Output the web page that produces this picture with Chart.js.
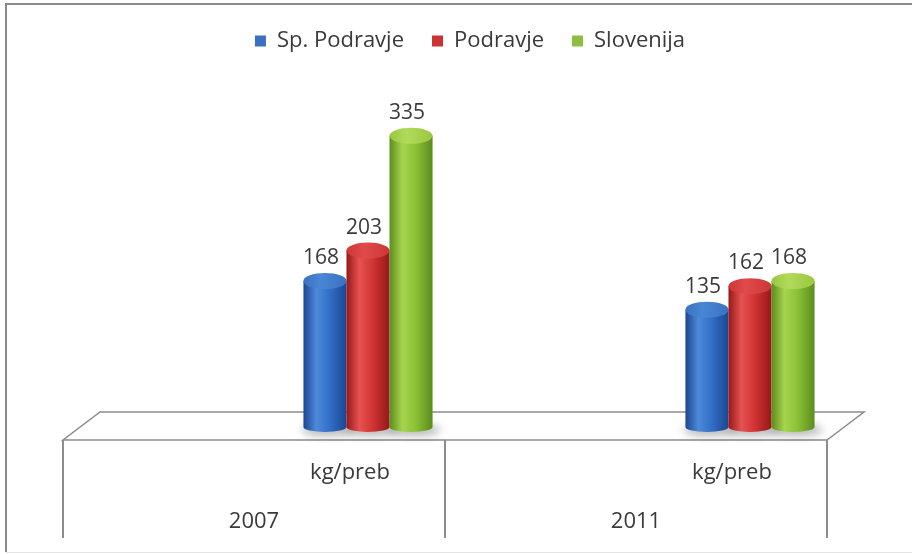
<!DOCTYPE html>
<html>
<head>
<meta charset="utf-8">
<script src="https://cdn.jsdelivr.net/npm/chart.js@4/dist/chart.umd.min.js"></script>
<style>
  html, body { margin: 0; padding: 0; background: #ffffff; }
  canvas { display: block; }
</style>
</head>
<body>
<canvas id="c" width="912" height="554"></canvas>
<script>
// ---- data ----
const categories = ['2007', '2011'];
const unitLabels = ['kg/preb', 'kg/preb'];
const seriesNames = ['Sp. Podravje', 'Podravje', 'Slovenija'];
const spPodravje = [168, 135];
const podravje = [203, 162];
const slovenija = [335, 168];

// ---- styles ----
const FONT = "'Open Sans', 'Noto Sans', sans-serif";
const TEXT = '#3a3a3a';
const palettes = [
  { solid: '#3a6fc2', edge: '#1b4690', light: '#4d8ad9', mid: '#3270c8', cap: '#4a86d4', capEdge: '#3a72c2' },
  { solid: '#cc3232', edge: '#961818', light: '#e65252', mid: '#d23434', cap: '#e04a4a', capEdge: '#cc3636' },
  { solid: '#8cbf3f', edge: '#5c8c1c', light: '#a6d44e', mid: '#8cc236', cap: '#b2da5a', capEdge: '#98c840' }
];
const DEPTH_X = 114;   // perspective shift of the bars inside the 3D floor
const FLOOR_DX = 37;   // floor depth (x)
const FLOOR_FRONT = 13, FLOOR_BACK = -15;

const cylPlugin = {
  id: 'cyl3d',
  beforeDraw(chart) {
    const ctx = chart.ctx;
    const ca = chart.chartArea;
    const yb = chart.scales.y.getPixelForValue(0);
    ctx.save();
    // outer frame
    ctx.strokeStyle = '#8a8a8a';
    ctx.lineWidth = 2;
    ctx.beginPath();
    ctx.moveTo(6, chart.height - 2);
    ctx.lineTo(6, 4);
    ctx.lineTo(chart.width, 4);
    ctx.stroke();
    ctx.strokeStyle = '#e2e2e2';
    ctx.lineWidth = 1;
    ctx.beginPath();
    ctx.moveTo(6, chart.height - 1.5);
    ctx.lineTo(chart.width, chart.height - 1.5);
    ctx.stroke();

    // floor
    const fy = yb + FLOOR_FRONT, by = yb + FLOOR_BACK;
    ctx.fillStyle = '#ffffff';
    ctx.strokeStyle = '#8c8c8c';
    ctx.lineWidth = 1.5;
    ctx.beginPath();
    ctx.moveTo(ca.left, fy);
    ctx.lineTo(ca.right, fy);
    ctx.lineTo(ca.right + FLOOR_DX, by);
    ctx.lineTo(ca.left + FLOOR_DX, by);
    ctx.closePath();
    ctx.fill();
    ctx.stroke();

    // category table
    const xs = chart.scales.x;
    const bottom = chart.height - 16;
    ctx.strokeStyle = '#8c8c8c';
    ctx.lineWidth = 2;
    const bounds = [ca.left];
    for (let i = 0; i < categories.length - 1; i++) {
      bounds.push((xs.getPixelForValue(i) + xs.getPixelForValue(i + 1)) / 2);
    }
    bounds.push(ca.right);
    bounds.forEach(bx => {
      ctx.beginPath();
      ctx.moveTo(bx, fy);
      ctx.lineTo(bx, bottom);
      ctx.stroke();
    });
    ctx.fillStyle = TEXT;
    ctx.textAlign = 'center';
    ctx.textBaseline = 'middle';
    categories.forEach((c, i) => {
      const cx = xs.getPixelForValue(i);
      ctx.font = '22px ' + FONT;
      ctx.fillText(unitLabels[i], cx + 96, yb + 46);
      ctx.fillText(c, cx, yb + 95);
    });
    ctx.restore();
  },
  beforeDatasetsDraw(chart) {
    const ctx = chart.ctx;
    ctx.save();
    const metas = chart.data.datasets.map((d, i) => chart.getDatasetMeta(i));
    // shadows
    metas.forEach(meta => {
      meta.data.forEach(el => {
        const { x, base, width } = el.getProps(['x', 'base', 'width'], true);
        const cx = x + DEPTH_X, r = width / 2;
        ctx.save();
        ctx.filter = 'blur(4px)';
        ctx.fillStyle = 'rgba(0,0,0,0.28)';
        ctx.beginPath();
        ctx.ellipse(cx + 3, base + 3, r + 5, 6, 0, 0, Math.PI * 2);
        ctx.fill();
        ctx.restore();
      });
    });
    // cylinders
    metas.forEach((meta, di) => {
      const p = palettes[di];
      meta.data.forEach(el => {
        const { x, y, base, width } = el.getProps(['x', 'y', 'base', 'width'], true);
        const cx = x + DEPTH_X, r = width / 2;
        const ryT = 8, ryB = 5;
        const g = ctx.createLinearGradient(cx - r, 0, cx + r, 0);
        g.addColorStop(0, p.edge);
        g.addColorStop(0.3, p.light);
        g.addColorStop(0.6, p.mid);
        g.addColorStop(1, p.edge);
        ctx.fillStyle = g;
        ctx.beginPath();
        ctx.moveTo(cx - r, y);
        ctx.lineTo(cx - r, base);
        ctx.ellipse(cx, base, r, ryB, 0, Math.PI, 0, true);
        ctx.lineTo(cx + r, y);
        ctx.closePath();
        ctx.fill();
        const gc = ctx.createLinearGradient(cx - r, 0, cx + r, 0);
        gc.addColorStop(0, p.capEdge);
        gc.addColorStop(0.4, p.cap);
        gc.addColorStop(1, p.capEdge);
        ctx.fillStyle = gc;
        ctx.beginPath();
        ctx.ellipse(cx, y, r, ryT, 0, 0, Math.PI * 2);
        ctx.fill();
      });
    });
    // value labels
    ctx.fillStyle = TEXT;
    ctx.font = '21px ' + FONT;
    ctx.textAlign = 'center';
    ctx.textBaseline = 'middle';
    metas.forEach((meta, di) => {
      const data = chart.data.datasets[di].data;
      meta.data.forEach((el, i) => {
        const { x, y } = el.getProps(['x', 'y'], true);
        ctx.fillText(String(data[i]), x + DEPTH_X - 4, y - 23);
      });
    });
    ctx.restore();
    return false;
  }
};

const seriesData = [spPodravje, podravje, slovenija];

new Chart(document.getElementById('c'), {
  type: 'bar',
  data: {
    labels: categories,
    datasets: seriesNames.map((name, i) => ({
      label: name,
      data: seriesData[i],
      backgroundColor: palettes[i].solid,
      borderWidth: 0,
      categoryPercentage: 0.338,
      barPercentage: 1
    }))
  },
  options: {
    responsive: false,
    animation: false,
    devicePixelRatio: 1,
    layout: { padding: { top: 2, left: 63, right: 35, bottom: 127 } },
    plugins: {
      tooltip: { enabled: false },
      legend: {
        position: 'top',
        labels: {
          color: TEXT,
          font: { family: FONT, size: 22 },
          boxWidth: 11,
          boxHeight: 11,
          padding: 28
        }
      }
    },
    scales: {
      x: { display: false },
      y: {
        position: 'right',
        min: 0,
        max: 420,
        grid: { display: false },
        border: { display: false },
        ticks: { display: false },
        afterFit(s) { s.width = 50; }
      }
    }
  },
  plugins: [cylPlugin]
});
</script>
</body>
</html>
